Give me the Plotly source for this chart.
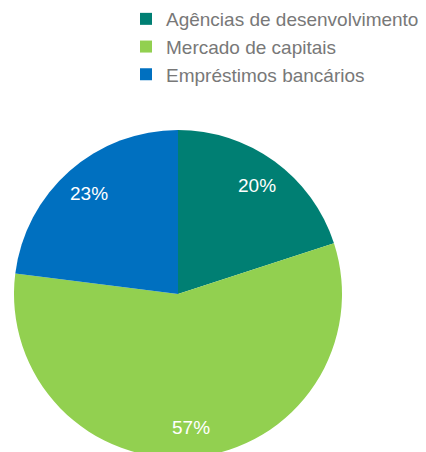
import math
import plotly.graph_objects as go

# Funding sources and their shares (%)
labels = ["Agências de desenvolvimento", "Mercado de capitais", "Empréstimos bancários"]
values = [20, 57, 23]
colors = ["#007F73", "#92D050", "#0070C0"]

W, H = 426, 458
FONT = "Liberation Sans, Arial, sans-serif"

# pie placement on the page (pixels)
cx, cy, radius = 178, 294, 164
dom_x = [(cx - radius) / W, (cx + radius) / W]
dom_y = [0, 1 - (cy - radius) / H]

fig = go.Figure(
    go.Pie(
        labels=labels,
        values=values,
        sort=False,
        direction="clockwise",
        rotation=0,
        marker=dict(colors=colors, line=dict(width=0)),
        textinfo="none",
        domain=dict(x=dom_x, y=dom_y),
        hoverinfo="label+percent",
    )
)

# percentage labels placed at each slice's mid-angle, near the rim
total = sum(values)
start = 0.0
label_r = 0.82 * radius
for v in values:
    mid = (start + v / 2) / total * 2 * math.pi
    start += v
    px = cx + label_r * math.sin(mid)
    py = cy - label_r * math.cos(mid)
    fig.add_annotation(
        x=px / W,
        y=1 - py / H,
        xref="paper",
        yref="paper",
        text=f"{round(100 * v / total)}%",
        showarrow=False,
        font=dict(family=FONT, size=19, color="white"),
        xanchor="center",
        yanchor="middle",
    )

fig.update_layout(
    width=W,
    height=H,
    margin=dict(l=0, r=0, t=0, b=0),
    paper_bgcolor="white",
    plot_bgcolor="white",
    showlegend=True,
    legend=dict(
        x=126 / W,
        xanchor="left",
        y=1,
        yanchor="top",
        font=dict(family=FONT, size=19, color="#787878"),
        bgcolor="rgba(0,0,0,0)",
        traceorder="normal",
    ),
)

fig.write_html("out.html")
